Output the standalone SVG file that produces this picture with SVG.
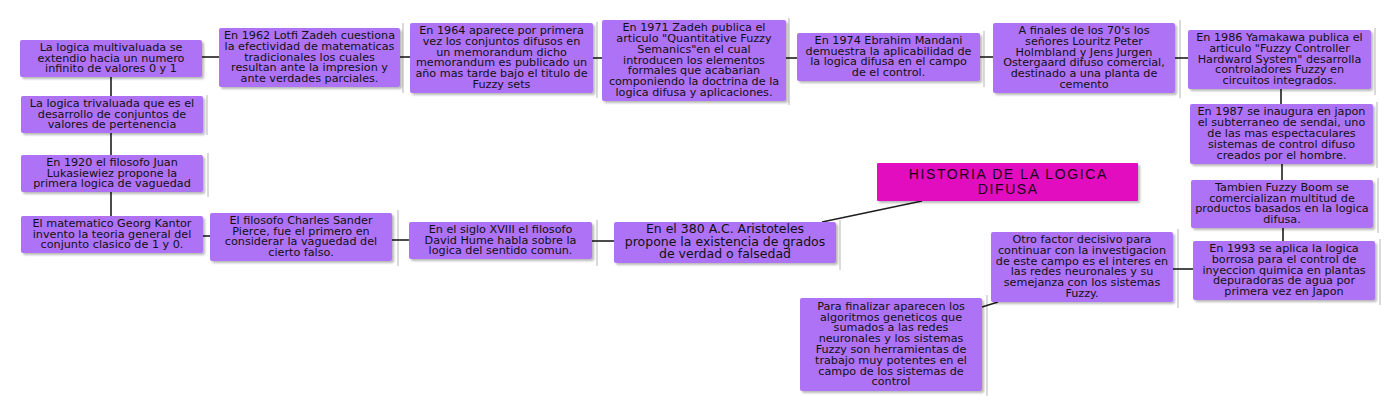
<svg xmlns="http://www.w3.org/2000/svg" width="1395" height="410" viewBox="0 0 1395 410">
<defs>
<filter id="sh" x="-5%" y="-10%" width="115%" height="130%">
<feDropShadow dx="2" dy="2" stdDeviation="1.2" flood-color="#000" flood-opacity="0.28"/>
</filter>
<style>
.n rect{fill:#AE72F6;filter:url(#sh)}
.n text{font-family:"DejaVu Sans",Verdana,sans-serif;font-size:11.2px;fill:#111;text-anchor:middle}
.t rect{fill:#E10EBE;filter:url(#sh)}
.t text{font-family:"Liberation Sans",Arial,sans-serif;font-size:14px;letter-spacing:1.6px;fill:#1a001a;text-anchor:middle}
.big text{font-size:12.5px}
.c line{stroke:#1e1e1e;stroke-width:1.6}
.bar line{stroke:#dadada;stroke-width:2}
</style>
</defs>
<rect width="1395" height="410" fill="#fff"/>
<g class="bar">
<line x1="403" y1="23" x2="403" y2="93"/>
<line x1="207" y1="95" x2="207" y2="135"/>
<line x1="208" y1="153" x2="208" y2="197"/>
<line x1="597" y1="22" x2="597" y2="98"/>
<line x1="789" y1="18" x2="789" y2="105"/>
<line x1="984" y1="31" x2="984" y2="87"/>
<line x1="1180" y1="20" x2="1180" y2="98"/>
<line x1="1375" y1="28" x2="1375" y2="95"/>
<line x1="1377" y1="102" x2="1377" y2="168"/>
<line x1="1378" y1="178" x2="1378" y2="233"/>
<line x1="1380" y1="239" x2="1380" y2="305"/>
<line x1="398" y1="210" x2="398" y2="266"/>
<line x1="597" y1="220" x2="597" y2="266"/>
<line x1="840" y1="220" x2="840" y2="270"/>
<line x1="1178" y1="229" x2="1178" y2="308"/>
<line x1="987" y1="295" x2="987" y2="396"/>
</g>
<g class="c" id="connectors">
<line x1="202" y1="57" x2="219" y2="57"/>
<line x1="111" y1="77" x2="111" y2="96"/>
<line x1="111" y1="133" x2="111" y2="155"/>
<line x1="111" y1="192" x2="111" y2="216"/>
<line x1="203" y1="236" x2="210" y2="236"/>
<line x1="392" y1="240" x2="409" y2="240"/>
<line x1="592" y1="241" x2="614" y2="241"/>
<line x1="822" y1="222" x2="922" y2="201"/>
<line x1="400" y1="57" x2="410" y2="57"/>
<line x1="593" y1="58" x2="602" y2="58"/>
<line x1="786" y1="58" x2="797" y2="58"/>
<line x1="980" y1="57" x2="993" y2="57"/>
<line x1="1175" y1="58" x2="1188" y2="58"/>
<line x1="1281" y1="89" x2="1281" y2="104"/>
<line x1="1282" y1="164" x2="1282" y2="180"/>
<line x1="1283" y1="228" x2="1283" y2="241"/>
<line x1="1173" y1="269" x2="1193" y2="269"/>
<line x1="982" y1="307" x2="998" y2="302"/>
</g>
<g class="n" id="n1"><rect x="20" y="40" width="182" height="37" rx="2"/>
<text x="111" y="50.7">La logica multivaluada se<tspan x="111" dy="10.8">extendio hacia un numero</tspan><tspan x="111" dy="10.8">infinito de valores 0 y 1</tspan></text></g>
<g class="n" id="n2"><rect x="219" y="28" width="181" height="59" rx="2"/>
<text x="309.5" y="38.9">En 1962 Lotfi Zadeh cuestiona<tspan x="309.5" dy="10.8">la efectividad de matematicas</tspan><tspan x="309.5" dy="10.8">tradicionales los cuales</tspan><tspan x="309.5" dy="10.8">resultan ante la impresion y</tspan><tspan x="309.5" dy="10.8">ante verdades parciales.</tspan></text></g>
<g class="n" id="n3"><rect x="21" y="96" width="182" height="37" rx="2"/>
<text x="112" y="106.7">La logica trivaluada que es el<tspan x="112" dy="10.8">desarrollo de conjuntos de</tspan><tspan x="112" dy="10.8">valores de pertenencia</tspan></text></g>
<g class="n" id="n4"><rect x="410" y="23" width="183" height="70" rx="2"/>
<text x="501.5" y="34">En 1964 aparece por primera<tspan x="501.5" dy="10.8">vez los conjuntos difusos en</tspan><tspan x="501.5" dy="10.8">un memorandum dicho</tspan><tspan x="501.5" dy="10.8">memorandum es publicado un</tspan><tspan x="501.5" dy="10.8">año mas tarde bajo el titulo de</tspan><tspan x="501.5" dy="10.8">Fuzzy sets</tspan></text></g>
<g class="n" id="n5"><rect x="602" y="20" width="184" height="81" rx="2"/>
<text x="694" y="31.1">En 1971 Zadeh publica el<tspan x="694" dy="10.8">articulo "Quantitative Fuzzy</tspan><tspan x="694" dy="10.8">Semanics"en el cual</tspan><tspan x="694" dy="10.8">introducen los elementos</tspan><tspan x="694" dy="10.8">formales que acabarian</tspan><tspan x="694" dy="10.8">componiendo la doctrina de la</tspan><tspan x="694" dy="10.8">logica difusa y aplicaciones.</tspan></text></g>
<g class="n" id="n6"><rect x="797" y="33" width="183" height="48" rx="2"/>
<text x="888.5" y="43.8">En 1974 Ebrahim Mandani<tspan x="888.5" dy="10.8">demuestra la aplicabilidad de</tspan><tspan x="888.5" dy="10.8">la logica difusa en el campo</tspan><tspan x="888.5" dy="10.8">de el control.</tspan></text></g>
<g class="n" id="n7"><rect x="993" y="23" width="182" height="70" rx="2"/>
<text x="1084" y="34">A finales de los 70's los<tspan x="1084" dy="10.8">señores Louritz Peter</tspan><tspan x="1084" dy="10.8">Holmbland y Jens Jurgen</tspan><tspan x="1084" dy="10.8">Ostergaard difuso comercial,</tspan><tspan x="1084" dy="10.8">destinado a una planta de</tspan><tspan x="1084" dy="10.8">cemento</tspan></text></g>
<g class="n" id="n8"><rect x="1188" y="30" width="183" height="59" rx="2"/>
<text x="1279.5" y="40.9">En 1986 Yamakawa publica el<tspan x="1279.5" dy="10.8">articulo "Fuzzy Controller</tspan><tspan x="1279.5" dy="10.8">Hardward System" desarrolla</tspan><tspan x="1279.5" dy="10.8">controladores Fuzzy en</tspan><tspan x="1279.5" dy="10.8">circuitos integrados.</tspan></text></g>
<g class="n" id="n9"><rect x="1190" y="104" width="183" height="60" rx="2"/>
<text x="1281.5" y="115.4">En 1987 se inaugura en japon<tspan x="1281.5" dy="10.8">el subterraneo de sendai, uno</tspan><tspan x="1281.5" dy="10.8">de las mas espectaculares</tspan><tspan x="1281.5" dy="10.8">sistemas de control difuso</tspan><tspan x="1281.5" dy="10.8">creados por el hombre.</tspan></text></g>
<g class="n" id="n10"><rect x="21" y="155" width="182" height="37" rx="2"/>
<text x="112" y="165.7">En 1920 el filosofo Juan<tspan x="112" dy="10.8">Lukasiewiez propone la</tspan><tspan x="112" dy="10.8">primera logica de vaguedad</tspan></text></g>
<g class="n" id="n11"><rect x="21" y="216" width="182" height="37" rx="2"/>
<text x="112" y="226.7">El matematico Georg Kantor<tspan x="112" dy="10.8">invento la teoria general del</tspan><tspan x="112" dy="10.8">conjunto clasico de 1 y 0.</tspan></text></g>
<g class="n" id="n12"><rect x="210" y="213" width="182" height="48" rx="2"/>
<text x="301" y="223.8">El filosofo Charles Sander<tspan x="301" dy="10.8">Pierce, fue el primero en</tspan><tspan x="301" dy="10.8">considerar la vaguedad del</tspan><tspan x="301" dy="10.8">cierto falso.</tspan></text></g>
<g class="n" id="n13"><rect x="409" y="222" width="183" height="37" rx="2"/>
<text x="500.5" y="232.7">En el siglo XVIII el filosofo<tspan x="500.5" dy="10.8">David Hume habla sobre la</tspan><tspan x="500.5" dy="10.8">logica del sentido comun.</tspan></text></g>
<g class="n big" id="n14"><rect x="614" y="222" width="222" height="41" rx="2"/>
<text x="725" y="233">En el 380 A.C. Aristoteles<tspan x="725" dy="12.5">propone la existencia de grados</tspan><tspan x="725" dy="12.5">de verdad o falsedad</tspan></text></g>
<g class="t" id="n15"><rect x="877" y="163" width="261" height="38" rx="1"/>
<text x="1008.3" y="178.5">HISTORIA DE LA LOGICA<tspan x="1008.3" dy="15">DIFUSA</tspan></text></g>
<g class="n" id="n16"><rect x="1191" y="180" width="182" height="48" rx="2"/>
<text x="1282" y="190.8">Tambien Fuzzy Boom se<tspan x="1282" dy="10.8">comercializan multitud de</tspan><tspan x="1282" dy="10.8">productos basados en la logica</tspan><tspan x="1282" dy="10.8">difusa.</tspan></text></g>
<g class="n" id="n17"><rect x="1193" y="241" width="182" height="59" rx="2"/>
<text x="1284" y="251.9">En 1993 se aplica la logica<tspan x="1284" dy="10.8">borrosa para el control de</tspan><tspan x="1284" dy="10.8">inyeccion quimica en plantas</tspan><tspan x="1284" dy="10.8">depuradoras de agua por</tspan><tspan x="1284" dy="10.8">primera vez en Japon</tspan></text></g>
<g class="n" id="n18"><rect x="991" y="232" width="182" height="70" rx="2"/>
<text x="1082" y="243">Otro factor decisivo para<tspan x="1082" dy="10.8">continuar con la investigacion</tspan><tspan x="1082" dy="10.8">de este campo es el interes en</tspan><tspan x="1082" dy="10.8">las redes neuronales y su</tspan><tspan x="1082" dy="10.8">semejanza con los sistemas</tspan><tspan x="1082" dy="10.8">Fuzzy.</tspan></text></g>
<g class="n" id="n19"><rect x="800" y="298" width="182" height="93" rx="2"/>
<text x="891" y="309.7">Para finalizar aparecen los<tspan x="891" dy="10.8">algoritmos geneticos que</tspan><tspan x="891" dy="10.8">sumados a las redes</tspan><tspan x="891" dy="10.8">neuronales y los sistemas</tspan><tspan x="891" dy="10.8">Fuzzy son herramientas de</tspan><tspan x="891" dy="10.8">trabajo muy potentes en el</tspan><tspan x="891" dy="10.8">campo de los sistemas de</tspan><tspan x="891" dy="10.8">control</tspan></text></g>
</svg>
